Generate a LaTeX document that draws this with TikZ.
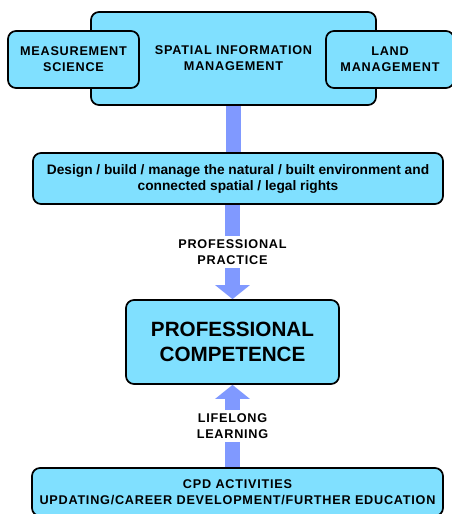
\documentclass[tikz,border=0pt]{standalone}
\usepackage{fontspec}
\setmainfont{Liberation Sans}
\newfontfamily\spacedfont[LetterSpace=6]{Liberation Sans}
\usetikzlibrary{arrows.meta}
\definecolor{boxfill}{RGB}{128,224,255}
\definecolor{stemblue}{RGB}{128,153,255}
\tikzset{
	box/.style={draw, line width=1.3pt, rounded corners=6pt, fill=boxfill, align=center, inner sep=0pt, font=\spacedfont\bfseries\fontsize{9.5}{12}\selectfont},
	stem/.style={draw=stemblue, line width=11.25pt},
	bigarrow/.style={stem, -{Triangle[width=25.5pt,length=10.5pt]}},
	lbl/.style={fill=white, align=center, inner xsep=1pt, inner ysep=3pt, font=\spacedfont\bfseries\fontsize{9.5}{12}\selectfont}
}
\begin{document}
\begin{tikzpicture}[x=0.75pt, y=-0.75pt]
	
	\clip (0,0) rectangle (452,514);
	\useasboundingbox (0,0) rectangle (452,514);
	
	\node[box, minimum width=213.75pt, minimum height=69.75pt] (sim) at (233.5,58.5) {SPATIAL INFORMATION\\MANAGEMENT};
	\node[box, minimum width=98.25pt, minimum height=42.75pt] (meas) at (73.5,59.5) {MEASUREMENT\\SCIENCE};
	\node[box, minimum width=96pt, minimum height=42.75pt] (land) at (390,59.5) {LAND\\MANAGEMENT};
	
	\node[box, minimum width=307.5pt, minimum height=38.25pt, font=\bfseries\fontsize{10.3}{12}\selectfont] (design) at (238,178.5) {Design / build / manage the natural / built environment and\\connected spatial / legal rights};
	
	\node[box, minimum width=159.75pt, minimum height=63pt, font=\bfseries\fontsize{15.5}{19}\selectfont] (comp) at (232.5,342) {PROFESSIONAL\\COMPETENCE};
	
	\node[box, minimum width=308.25pt, minimum height=36pt] (cpd) at (237.5,492) {CPD ACTIVITIES\\UPDATING/CAREER DEVELOPMENT/FURTHER EDUCATION};
	
	\draw[stem] (sim.south) -- (sim.south |- design.north);
	\draw[bigarrow] (comp.north |- design.south) -- node[lbl] {PROFESSIONAL\\PRACTICE} (comp.north);
	\draw[bigarrow] (comp.south |- cpd.north) -- node[lbl] {LIFELONG\\LEARNING} (comp.south);
	
\end{tikzpicture}
\end{document}
